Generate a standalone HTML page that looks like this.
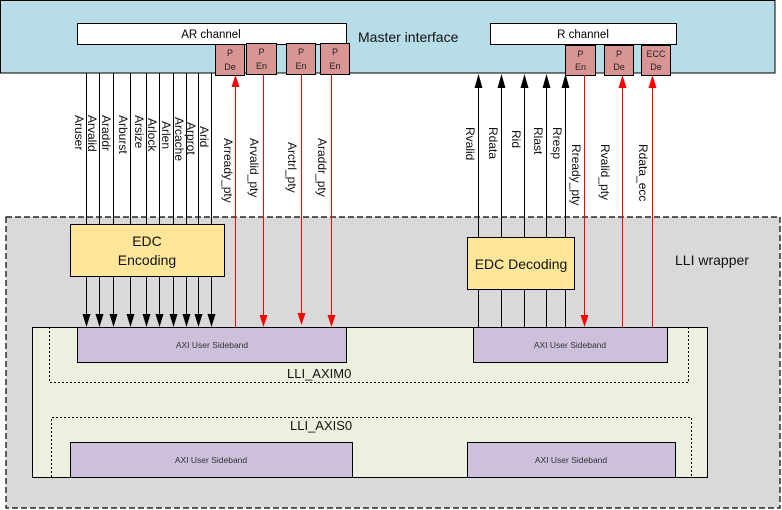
<!DOCTYPE html>
<html><head><meta charset="utf-8"><style>
html,body{margin:0;padding:0;background:#fff;}
svg{display:block;font-family:"Liberation Sans",sans-serif;}
</style></head><body>
<svg width="782" height="510" viewBox="0 0 782 510" xmlns="http://www.w3.org/2000/svg">
<!-- LLI wrapper -->
<rect x="6" y="217" width="774" height="291" fill="#d9d9d9" stroke="#000" stroke-width="1.2" stroke-dasharray="6,3"/>
<text x="675" y="265" font-size="14" fill="#111">LLI wrapper</text>
<!-- Master interface -->
<rect x="0.5" y="0.5" width="774.5" height="72.5" fill="#b7dde8" stroke="#000" stroke-width="1"/>
<text x="358" y="42" font-size="14" fill="#111">Master interface</text>
<rect x="77.5" y="23.5" width="269" height="21" fill="#fff" stroke="#000"/>
<text x="211" y="38" font-size="11.5" text-anchor="middle">AR channel</text>
<rect x="490.5" y="23.5" width="186" height="21" fill="#fff" stroke="#000"/>
<text x="583" y="38" font-size="11.5" text-anchor="middle">R channel</text>
<g fill="#d99594" stroke="#000">
<rect x="215.5" y="44.5" width="29" height="31"/>
<rect x="246.5" y="43.5" width="30" height="31"/>
<rect x="286.5" y="43.5" width="29" height="31"/>
<rect x="320.5" y="43.5" width="29" height="31"/>
<rect x="565.5" y="45.5" width="30" height="30"/>
<rect x="604.5" y="45.5" width="29" height="30"/>
<rect x="641.5" y="45.5" width="29" height="30"/>
</g>
<g font-size="9" text-anchor="middle" fill="#222">
<text x="230" y="56">P</text><text x="230" y="70">De</text>
<text x="261.5" y="55">P</text><text x="261.5" y="69">En</text>
<text x="301" y="55">P</text><text x="301" y="69">En</text>
<text x="335" y="55">P</text><text x="335" y="69">En</text>
<text x="580.5" y="57">P</text><text x="580.5" y="70">En</text>
<text x="619" y="57">P</text><text x="619" y="70">De</text>
<text x="656" y="57">ECC</text><text x="656" y="70">De</text>
</g>
<!-- Green LLI box -->
<rect x="32.5" y="327.5" width="675" height="150" fill="#ebf1de" stroke="#000"/>
<path d="M49.5,327 V382.5 H688.5 V327" fill="none" stroke="#000" stroke-dasharray="2,2"/>
<path d="M51.5,477 V417.5 H691.5 V477" fill="none" stroke="#000" stroke-dasharray="2,2"/>
<text x="287" y="378" font-size="13" fill="#111">LLI_AXIM0</text>
<text x="290" y="430" font-size="13" fill="#111">LLI_AXIS0</text>
<g fill="#ccc0da" stroke="#000">
<rect x="77.5" y="327.5" width="269" height="35"/>
<rect x="473.5" y="327.5" width="194" height="35"/>
<rect x="70.5" y="442.5" width="282" height="35"/>
<rect x="467.5" y="442.5" width="208" height="35"/>
</g>
<g font-size="8.5" text-anchor="middle" fill="#333">
<text x="212" y="348">AXI User Sideband</text>
<text x="570" y="348">AXI User Sideband</text>
<text x="211" y="463">AXI User Sideband</text>
<text x="571" y="463">AXI User Sideband</text>
</g>
<!-- AR black lines -->
<g stroke="#000" stroke-width="1">
<line x1="86.5" y1="73" x2="86.5" y2="224"/><line x1="99.5" y1="73" x2="99.5" y2="224"/>
<line x1="113.5" y1="73" x2="113.5" y2="224"/><line x1="130.5" y1="73" x2="130.5" y2="224"/>
<line x1="146.5" y1="73" x2="146.5" y2="224"/><line x1="159.5" y1="73" x2="159.5" y2="224"/>
<line x1="173.5" y1="73" x2="173.5" y2="224"/><line x1="186.5" y1="73" x2="186.5" y2="224"/>
<line x1="198.5" y1="73" x2="198.5" y2="224"/><line x1="211.5" y1="73" x2="211.5" y2="224"/>
</g>
<g stroke="#000" stroke-width="1">
<line x1="86.5" y1="276" x2="86.5" y2="315"/><line x1="99.5" y1="276" x2="99.5" y2="315"/>
<line x1="113.5" y1="276" x2="113.5" y2="315"/><line x1="130.5" y1="276" x2="130.5" y2="315"/>
<line x1="146.5" y1="276" x2="146.5" y2="315"/><line x1="159.5" y1="276" x2="159.5" y2="315"/>
<line x1="173.5" y1="276" x2="173.5" y2="315"/><line x1="186.5" y1="276" x2="186.5" y2="315"/>
<line x1="198.5" y1="276" x2="198.5" y2="315"/><line x1="211.5" y1="276" x2="211.5" y2="315"/>
</g>
<g fill="#000">
<path d="M82.5,314 L90.5,314 L86.5,327 Z"/><path d="M95.5,314 L103.5,314 L99.5,327 Z"/>
<path d="M109.5,314 L117.5,314 L113.5,327 Z"/><path d="M126.5,314 L134.5,314 L130.5,327 Z"/>
<path d="M142.5,314 L150.5,314 L146.5,327 Z"/><path d="M155.5,314 L163.5,314 L159.5,327 Z"/>
<path d="M169.5,314 L177.5,314 L173.5,327 Z"/><path d="M182.5,314 L190.5,314 L186.5,327 Z"/>
<path d="M194.5,314 L202.5,314 L198.5,327 Z"/><path d="M207.5,314 L215.5,314 L211.5,327 Z"/>
</g>
<rect x="70.5" y="224.5" width="154" height="52" fill="#ffe699" stroke="#000"/>
<text x="147" y="246" font-size="14" text-anchor="middle" fill="#111">EDC</text>
<text x="147" y="265" font-size="14" text-anchor="middle" fill="#111">Encoding</text>
<!-- AR labels -->
<g font-size="12" fill="#111">
<text transform="translate(75,115) rotate(90)">Aruser</text>
<text transform="translate(88,115) rotate(90)">Arvalid</text>
<text transform="translate(102,115) rotate(90)">Araddr</text>
<text transform="translate(119,115) rotate(90)">Arburst</text>
<text transform="translate(135,115) rotate(90)">Arsize</text>
<text transform="translate(148,118) rotate(90)">Arlock</text>
<text transform="translate(162,121) rotate(90)">Arlen</text>
<text transform="translate(175,117) rotate(90)">Arcache</text>
<text transform="translate(187,122) rotate(90)">Arprot</text>
<text transform="translate(200,126) rotate(90)">Arid</text>
<text transform="translate(224,138) rotate(90)">Arready_pty</text>
<text transform="translate(250,138) rotate(90)">Arvalid_pty</text>
<text transform="translate(288,142) rotate(90)">Arctrl_pty</text>
<text transform="translate(318,138) rotate(90)">Araddr_pty</text>
</g>
<!-- AR red lines -->
<g stroke="#f00" stroke-width="1">
<line x1="235.5" y1="86" x2="235.5" y2="327"/>
<line x1="263.5" y1="75" x2="263.5" y2="316"/>
<line x1="301.5" y1="75" x2="301.5" y2="316"/>
<line x1="331.5" y1="75" x2="331.5" y2="316"/>
</g>
<g fill="#f00">
<path d="M231.5,87 L239.5,87 L235.5,75 Z"/>
<path d="M259.5,315 L267.5,315 L263.5,327 Z"/>
<path d="M297.5,313 L305.5,313 L301.5,325 Z"/>
<path d="M327.5,315 L335.5,315 L331.5,327 Z"/>
</g>
<!-- R black lines -->
<g stroke="#000" stroke-width="1">
<line x1="478.5" y1="86" x2="478.5" y2="327"/><line x1="501.5" y1="86" x2="501.5" y2="327"/>
<line x1="524.5" y1="86" x2="524.5" y2="327"/><line x1="546.5" y1="86" x2="546.5" y2="327"/>
<line x1="565.5" y1="86" x2="565.5" y2="327"/>
</g>
<g fill="#000">
<path d="M474.5,88 L482.5,88 L478.5,74 Z"/><path d="M497.5,88 L505.5,88 L501.5,74 Z"/>
<path d="M520.5,88 L528.5,88 L524.5,74 Z"/><path d="M542.5,88 L550.5,88 L546.5,74 Z"/>
<path d="M561.5,88 L569.5,88 L565.5,74 Z"/>
</g>
<rect x="467.5" y="237.5" width="107" height="52" fill="#ffe699" stroke="#000"/>
<text x="521" y="269" font-size="14" text-anchor="middle" fill="#111">EDC Decoding</text>
<g stroke="#f00" stroke-width="1">
<line x1="584.5" y1="75" x2="584.5" y2="316"/>
<line x1="622.5" y1="86" x2="622.5" y2="327"/>
<line x1="652.5" y1="86" x2="652.5" y2="327"/>
</g>
<g fill="#f00">
<path d="M580.5,315 L588.5,315 L584.5,327 Z"/>
<path d="M618.5,88 L626.5,88 L622.5,75 Z"/>
<path d="M648.5,88 L656.5,88 L652.5,75 Z"/>
</g>
<g font-size="12" fill="#111">
<text transform="translate(466,127) rotate(90)">Rvalid</text>
<text transform="translate(489,127) rotate(90)">Rdata</text>
<text transform="translate(512,130) rotate(90)">Rid</text>
<text transform="translate(534,127) rotate(90)">Rlast</text>
<text transform="translate(553,127) rotate(90)">Rresp</text>
<text transform="translate(572,144) rotate(90)">Rready_pty</text>
<text transform="translate(601,144) rotate(90)">Rvalid_pty</text>
<text transform="translate(639,144) rotate(90)">Rdata_ecc</text>
</g>
</svg>
</body></html>
